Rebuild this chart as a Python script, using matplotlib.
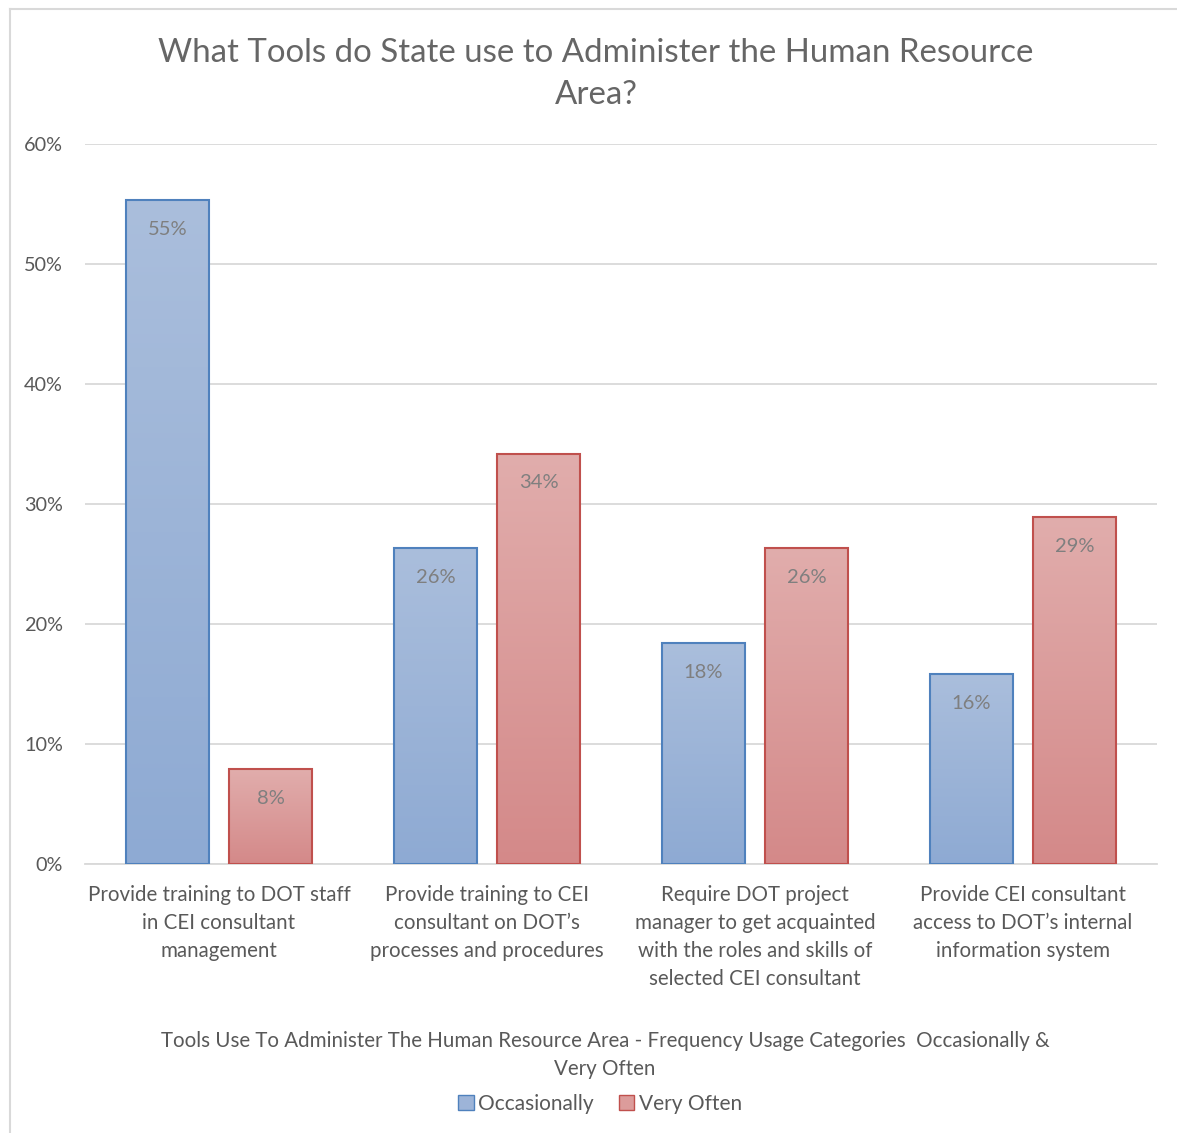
import matplotlib
matplotlib.use("Agg")
import matplotlib.pyplot as plt
import numpy as np
from matplotlib.patches import Patch
from matplotlib.colors import LinearSegmentedColormap
from matplotlib.lines import Line2D

plt.rcParams['font.family'] = ['Lato', 'DejaVu Sans']

categories = [
    "Provide training to DOT staff\nin CEI consultant\nmanagement",
    "Provide training to CEI\nconsultant on DOT\u2019s\nprocesses and procedures",
    "Require DOT project\nmanager to get acquainted\nwith the roles and skills of\nselected CEI consultant",
    "Provide CEI consultant\naccess to DOT\u2019s internal\ninformation system",
]
occasionally = [0.553, 0.263, 0.184, 0.158]
very_often = [0.079, 0.342, 0.263, 0.289]
series_names = ["Occasionally", "Very Often"]
y_ticks = [0.0, 0.1, 0.2, 0.3, 0.4, 0.5, 0.6]

title = "What Tools do State use to Administer the Human Resource\nArea?"
x_title = ("Tools Use To Administer The Human Resource Area - Frequency Usage Categories  Occasionally &\n"
           "Very Often")

text_grey = "#595959"
styles = {
    "Occasionally": dict(top="#aabedc", bottom="#8eaad3", edge="#4f81bd"),
    "Very Often": dict(top="#e1adac", bottom="#d48989", edge="#c0504d"),
}

W, H = 1177, 1133
fig = plt.figure(figsize=(W / 100, H / 100), dpi=100)
ax = fig.add_axes([85 / W, 1 - 864 / H, (1157 - 85) / W, (864 - 144) / H])

x = np.arange(len(categories))
bw = 0.313
off = 0.192


def gradient_bars(xpos, vals, style):
    cmap = LinearSegmentedColormap.from_list("g", [style["bottom"], style["top"]])
    grad = np.linspace(0, 1, 256).reshape(-1, 1)
    bars = ax.bar(xpos, vals, width=bw, facecolor="none", edgecolor=style["edge"],
                  linewidth=1.5, zorder=3)
    for b in bars:
        x0, y0 = b.get_x(), b.get_y()
        w, h = b.get_width(), b.get_height()
        im = ax.imshow(grad, cmap=cmap, origin="lower", aspect="auto",
                       extent=(x0, x0 + w, y0, y0 + h), zorder=2,
                       interpolation="bilinear")
        im.set_clip_path(b)
    for b, v in zip(bars, vals):
        ax.annotate(f"{v:.0%}", (b.get_x() + b.get_width() / 2, v),
                    xytext=(0, -15), textcoords="offset points",
                    ha="center", va="top", fontsize=14.5, color="#7f7f7f", zorder=4)
    return bars


gradient_bars(x - off, occasionally, styles["Occasionally"])
gradient_bars(x + off, very_often, styles["Very Often"])

ax.set_xlim(-0.5, len(categories) - 0.5)
ax.set_ylim(0, 0.6)
ax.set_yticks(y_ticks)
ax.set_yticklabels([f"{t:.0%}" for t in y_ticks])
ax.yaxis.grid(True, color="#d9d9d9", linewidth=1.3, zorder=0)
ax.set_axisbelow(True)
for s in ["left", "right", "top"]:
    ax.spines[s].set_visible(False)
ax.spines["bottom"].set_color("#d9d9d9")
ax.spines["bottom"].set_linewidth(1.3)
ax.tick_params(axis="y", length=0, pad=16, labelsize=14.3, labelcolor=text_grey)
ax.tick_params(axis="x", length=0, pad=15, labelsize=14.8, labelcolor=text_grey)
ax.set_xticks(x)
ax.set_xticklabels(categories, linespacing=1.5, va="top")

fig.text(596 / W, 1 - 74 / H, title, ha="center", va="center", fontsize=23.8,
         color="#666666", linespacing=1.53)
fig.text(605 / W, 1 - 1055 / H, x_title, ha="center", va="center", fontsize=14.8,
         color=text_grey, linespacing=1.5)

handles = [Patch(facecolor="#9db4d8", edgecolor=styles["Occasionally"]["edge"]),
           Patch(facecolor="#dc9c9b", edgecolor=styles["Very Often"]["edge"])]
fig.legend(handles, series_names, loc="center", bbox_to_anchor=(600 / W, 1 - 1104 / H),
           ncol=2, frameon=False, fontsize=15, labelcolor=text_grey,
           handlelength=0.75, handleheight=0.75, handletextpad=0.2, columnspacing=1.2)

# chart area outline (top and left edges)
fig.add_artist(Line2D([10 / W, 1], [1 - 9 / H, 1 - 9 / H], transform=fig.transFigure,
                      color="#d9d9d9", linewidth=1.5))
fig.add_artist(Line2D([10 / W, 10 / W], [0, 1 - 9 / H], transform=fig.transFigure,
                      color="#d9d9d9", linewidth=1.5))

fig.savefig("out.png", dpi=100)
